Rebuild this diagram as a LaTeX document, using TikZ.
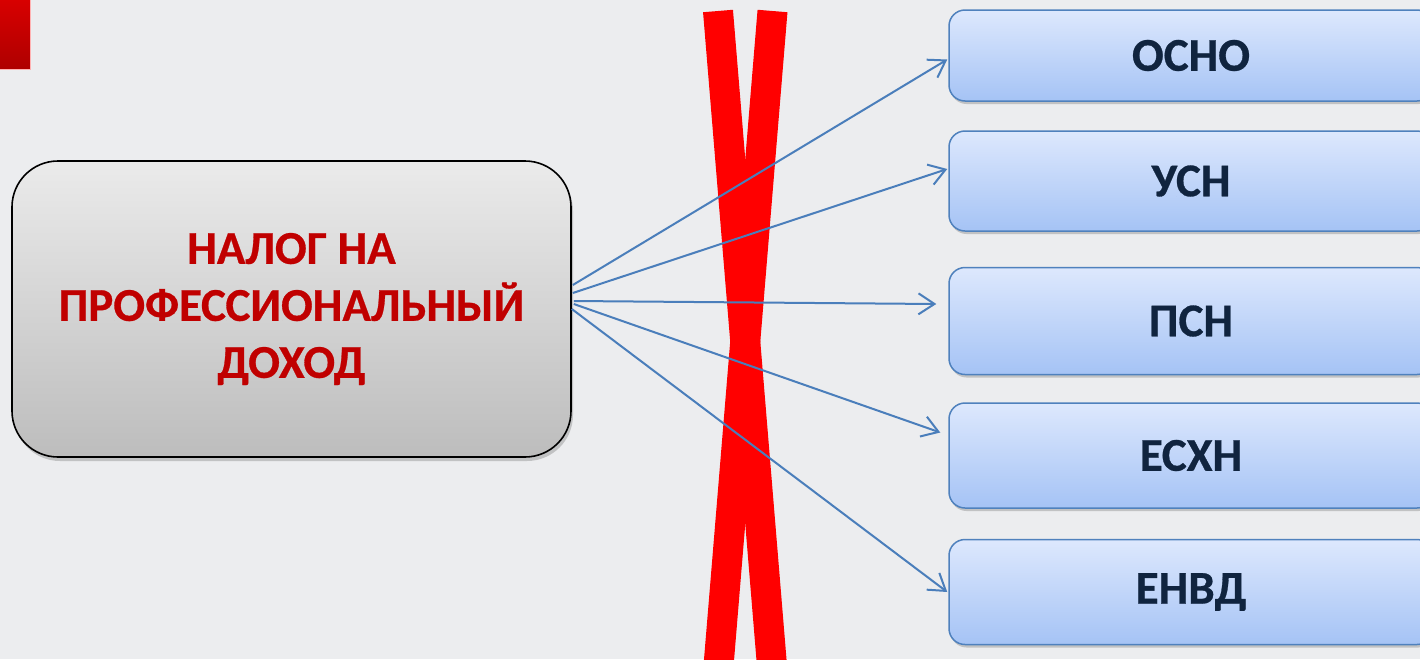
\documentclass[tikz,border=0pt]{standalone}
\usepackage{fontspec}
\setmainfont{Carlito}[BoldFeatures={FakeBold=0.6}]
\usetikzlibrary{arrows.meta,shadows,calc}
\definecolor{bgc}{HTML}{ECEDEF}
\definecolor{boxline}{HTML}{4F81BD}
\definecolor{boxtop}{HTML}{DDE8FD}
\definecolor{boxbot}{HTML}{A5C3F5}
\definecolor{navy}{HTML}{10243F}
\definecolor{darkred}{HTML}{C00000}
\definecolor{arrowc}{HTML}{4A7EBB}
\definecolor{xred}{HTML}{FF0000}
\definecolor{tabtop}{HTML}{D80000}
\definecolor{tabbot}{HTML}{AE0000}
\tikzset{
  regime/.style={draw=boxline, line width=1.5pt, rounded corners=16pt,
    top color=boxtop, bottom color=boxbot, minimum width=484pt,
    text=navy, font=\fontsize{47}{56}\selectfont\bfseries,
    drop shadow={shadow xshift=1.5pt, shadow yshift=-3pt, opacity=0.35, fill=black!55}},
  mainbox/.style={draw=black, line width=1.6pt, rounded corners=46pt,
    top color=black!8, bottom color=black!26, minimum width=559pt, minimum height=296pt,
    text=darkred, align=center, font=\fontsize{47}{57}\selectfont\bfseries,
    drop shadow={shadow xshift=2pt, shadow yshift=-4pt, opacity=0.35, fill=black!55}},
  conn/.style={draw=arrowc, line width=2pt, -{Straight Barb[length=16pt,width=21pt]}},
  xstrip/.style={draw=xred, line width=30pt, line cap=butt},
  tabbox/.style={draw=red!30, line width=1pt, top color=tabtop, bottom color=tabbot,
    inner sep=0pt, minimum width=31pt, minimum height=70pt},
}
\begin{document}
\begin{tikzpicture}[x=1pt,y=-1pt]
\useasboundingbox (0,0) rectangle (1420,659);
\fill[bgc] (0,0) rectangle (1420,659);
% top-left red tab
\node[tabbox] (tab) at (15,34.5) {};
% main box
\node[mainbox] (L) at (291.5,309) {НАЛОГ НА\\ПРОФЕССИОНАЛЬНЫЙ\\ДОХОД};
% regime boxes
\node[regime, minimum height=91pt] (O) at (1191,55.5) {ОСНО};
\node[regime, minimum height=100pt] (U) at (1191,181) {УСН};
\node[regime, minimum height=107pt] (P) at (1191,321) {ПСН};
\node[regime, minimum height=105pt] (E) at (1191,455.5) {ЕСХН};
\node[regime, minimum height=105pt] (V) at (1191,592) {ЕНВД};
% connector start points on the main box
\coordinate (s1) at ($(L.east)+(1,-24)$);
\coordinate (s2) at ($(L.east)+(1,-16)$);
\coordinate (s3) at ($(L.east)+(2,-8)$);
\coordinate (s4) at ($(L.east)+(2,-5)$);
\coordinate (s5) at ($(L.east)+(0,0)$);
% red cross (drawn under the arrows)
\draw[xstrip] (718,11) -- (772.5,672);
\draw[xstrip] (772.5,11) -- (718,672);
% connectors
\draw[conn] (s1) -- ($(O.west)+(-1,4)$);
\draw[conn] (s2) -- ($(U.west)+(-1,-12)$);
\draw[conn] (s3) -- ($(P.west)+(-12,-17)$);
\draw[conn] (s4) -- ($(E.west)+(-8,-23)$);
\draw[conn] (s5) -- ($(V.west)+(-1,0)$);
\end{tikzpicture}
\end{document}
